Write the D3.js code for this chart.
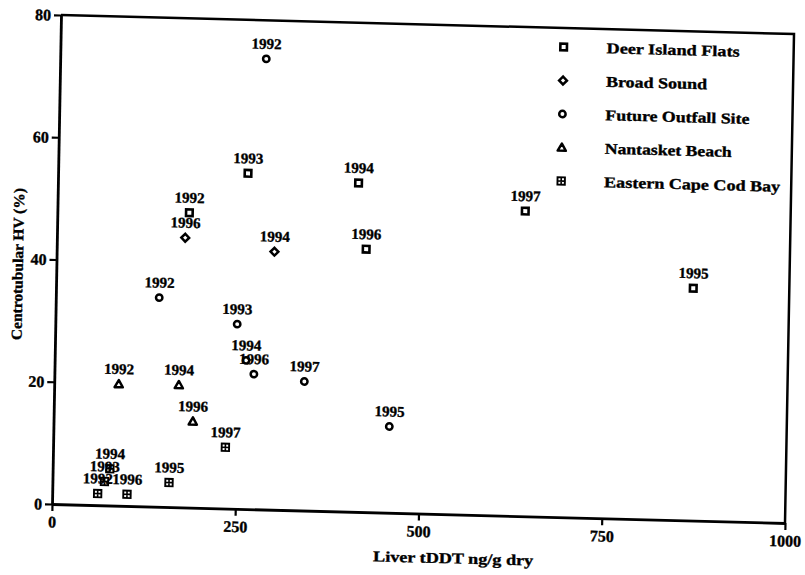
<!DOCTYPE html>
<html>
<head>
<meta charset="utf-8">
<script src="https://cdn.jsdelivr.net/npm/d3@7"></script>
<style>
  html, body { margin: 0; padding: 0; background: #fff; }
  svg { display: block; }
  text { font-family: "Liberation Serif", "Times New Roman", serif; font-weight: bold; fill: #000; stroke: #000; stroke-width: 0.35px; }
</style>
</head>
<body>
<svg id="chart" width="805" height="575"></svg>
<script>
// Site names, in legend order
const sites = ["Deer Island Flats", "Broad Sound", "Future Outfall Site", "Nantasket Beach", "Eastern Cape Cod Bay"];
const siteShapes = ["square", "diamond", "circle", "triangle", "crossSquare"];

// Deer Island Flats
const difYears = [1992, 1993, 1994, 1996, 1997, 1995];
const difDDT   = [180, 259, 410, 422, 638, 869];
const difHV    = [48.2, 54.9, 53.8, 43.0, 49.9, 38.0];

// Broad Sound
const bsYears = [1996, 1994];
const bsDDT   = [175, 297];
const bsHV    = [44.1, 42.2];

// Future Outfall Site
const fosYears = [1992, 1992, 1993, 1994, 1996, 1997, 1995];
const fosDDT   = [281, 141, 248, 261, 272, 341, 458];
const fosHV    = [73.7, 34.2, 30.2, 24.3, 22.1, 21.1, 14.1];

// Nantasket Beach
const nbYears = [1992, 1994, 1996];
const nbDDT   = [88, 170, 190];
const nbHV    = [19.9, 20.0, 14.1];

// Eastern Cape Cod Bay
const eccbYears = [1992, 1993, 1994, 1996, 1995, 1997];
const eccbDDT   = [62, 71, 78, 102, 159, 235];
const eccbHV    = [1.9, 3.9, 6.0, 1.9, 4.0, 10.0];

// Axis ticks and titles
const xTicks = [0, 250, 500, 750, 1000];
const yTicks = [0, 20, 40, 60, 80];
const xTitle = "Liver tDDT ng/g dry";
const yTitle = "Centrotubular HV (%)";

// Build one table of points from the per-site arrays
const seriesSrc = [
  [difYears, difDDT, difHV],
  [bsYears, bsDDT, bsHV],
  [fosYears, fosDDT, fosHV],
  [nbYears, nbDDT, nbHV],
  [eccbYears, eccbDDT, eccbHV]
];
const points = [];
seriesSrc.forEach(([yrs, xs, ys], si) => {
  yrs.forEach((yr, i) => points.push({ site: si, year: yr, x: xs[i], y: ys[i] }));
});

const W = 733, H = 489;
const svg = d3.select("#chart");
svg.append("rect").attr("width", 805).attr("height", 575).attr("fill", "#fff");

// The printed page sits slightly skewed; the whole plot lives in one sheared frame
const g = svg.append("g").attr("transform", "matrix(1,0.0259,-0.0184,1,61,15)");

const x = d3.scaleLinear().domain([0, 1000]).range([0, W]);
const y = d3.scaleLinear().domain([0, 80]).range([H, 0]);

// Marker shapes
function drawMarker(sel, shape) {
  if (shape === "square") {
    sel.append("rect").attr("x", -3.3).attr("y", -3.3).attr("width", 6.6).attr("height", 6.6)
      .attr("fill", "none").attr("stroke", "#000").attr("stroke-width", 2.6);
  } else if (shape === "diamond") {
    sel.append("path").attr("d", "M0,-3.9L3.9,0L0,3.9L-3.9,0Z")
      .attr("fill", "none").attr("stroke", "#000").attr("stroke-width", 2.5);
  } else if (shape === "circle") {
    sel.append("circle").attr("r", 3.2)
      .attr("fill", "none").attr("stroke", "#000").attr("stroke-width", 2.5);
  } else if (shape === "triangle") {
    sel.append("path").attr("d", "M0,-4L4.1,3.2L-4.1,3.2Z")
      .attr("fill", "none").attr("stroke", "#000").attr("stroke-width", 2.5).attr("stroke-linejoin", "round");
  } else if (shape === "crossSquare") {
    sel.append("rect").attr("x", -3.7).attr("y", -3.7).attr("width", 7.4).attr("height", 7.4)
      .attr("fill", "none").attr("stroke", "#000").attr("stroke-width", 1.9);
    sel.append("path").attr("d", "M-3.7,0H3.7M0,-3.7V3.7")
      .attr("stroke", "#000").attr("stroke-width", 1.6);
  }
}

// Frame: top and right edges
g.append("path").attr("d", `M0,0H${W}V${H}`)
  .attr("fill", "none").attr("stroke", "#000").attr("stroke-width", 2.5);

// Axes
const xAxis = d3.axisBottom(x).tickValues(xTicks).tickSize(7).tickSizeOuter(0).tickPadding(5)
  .tickFormat(d3.format("d"));
const yAxis = d3.axisLeft(y).tickValues(yTicks).tickSize(7).tickSizeOuter(0).tickPadding(3)
  .tickFormat(d3.format("d"));

const gx = g.append("g").attr("transform", `translate(0,${H})`).call(xAxis);
const gy = g.append("g").call(yAxis);
[gx, gy].forEach(ax => {
  ax.select(".domain").attr("stroke", "#000").attr("stroke-width", 2.8);
  ax.selectAll(".tick line").attr("stroke", "#000").attr("stroke-width", 2.2);
  ax.selectAll(".tick text")
    .attr("font-family", "'Liberation Serif', 'Times New Roman', serif")
    .attr("font-weight", "bold").attr("font-size", 16).attr("fill", "#000");
});

// Axis titles
g.append("text").attr("x", 402).attr("y", 538).attr("text-anchor", "middle")
  .attr("font-size", 15).attr("textLength", 160).attr("lengthAdjust", "spacingAndGlyphs")
  .text(xTitle);
g.append("text").attr("transform", "translate(-33.5,250) rotate(-90)").attr("text-anchor", "middle")
  .attr("font-size", 15).attr("textLength", 152).attr("lengthAdjust", "spacingAndGlyphs")
  .text(yTitle);

// Year labels first, markers drawn over them
const plot = g.append("g");
plot.selectAll("text.yr").data(points).join("text").attr("class", "yr")
  .attr("x", d => x(d.x)).attr("y", d => y(d.y) - 10)
  .attr("text-anchor", "middle").attr("font-size", 15)
  .attr("textLength", 30).attr("lengthAdjust", "spacingAndGlyphs")
  .text(d => d.year);

plot.selectAll("g.pt").data(points).join("g").attr("class", "pt")
  .attr("transform", d => `translate(${x(d.x)},${y(d.y)})`)
  .each(function (d) { drawMarker(d3.select(this), siteShapes[d.site]); });

// Legend
const legendW = [133, 101, 144, 127, 176];
const legend = g.append("g");
sites.forEach((name, i) => {
  const row = legend.append("g").attr("transform", `translate(0,${19 + 33.5 * i})`);
  drawMarker(row.append("g").attr("transform", "translate(503,0)"), siteShapes[i]);
  row.append("text").attr("x", 546).attr("y", 5).attr("font-size", 15)
    .attr("textLength", legendW[i]).attr("lengthAdjust", "spacingAndGlyphs")
    .text(name);
});
</script>
</body>
</html>
